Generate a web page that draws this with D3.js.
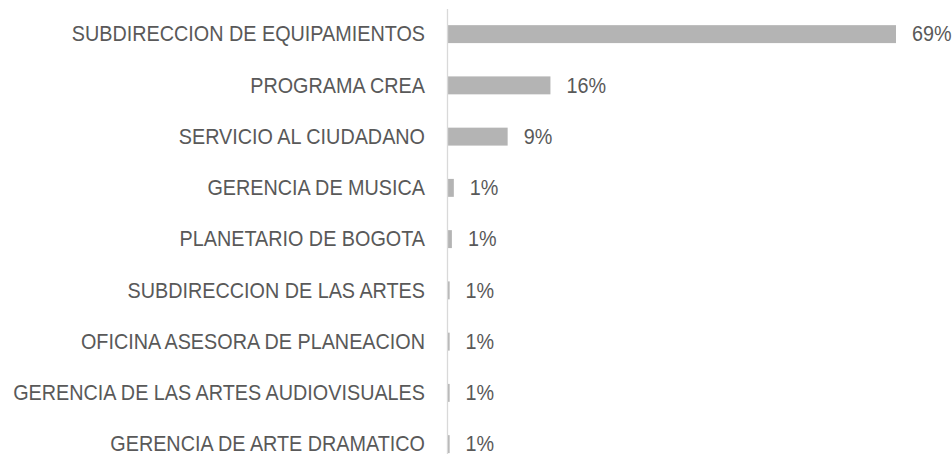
<!DOCTYPE html>
<html>
<head>
<meta charset="utf-8">
<script src="https://cdn.jsdelivr.net/npm/d3@7"></script>
<style>
  html, body { margin: 0; padding: 0; background: #fff; }
  svg { display: block; }
  text { font-family: "Liberation Sans Narrow", "Liberation Sans", Arial, sans-serif; fill: #595959; font-size: 22px; }
</style>
</head>
<body>
<svg id="chart" width="952" height="454"></svg>
<script>
// areas, in the order shown top to bottom
var areas = [
  'SUBDIRECCION DE EQUIPAMIENTOS',
  'PROGRAMA CREA',
  'SERVICIO AL CIUDADANO',
  'GERENCIA DE MUSICA',
  'PLANETARIO DE BOGOTA',
  'SUBDIRECCION DE LAS ARTES',
  'OFICINA ASESORA DE PLANEACION',
  'GERENCIA DE LAS ARTES AUDIOVISUALES',
  'GERENCIA DE ARTE DRAMATICO'
]
// share of each area, percent (bar lengths)
var shares = [69.1, 15.8, 9.2, 0.9, 0.6, 0.25, 0.25, 0.25, 0.25]
// labels as printed next to the bars
var shareLabels = ['69%', '16%', '9%', '1%', '1%', '1%', '1%', '1%', '1%']

var svg = d3.select('#chart')
var axisX = 447.5
// no narrow font installed, so squeeze the glyphs a little
var squeeze = 0.9

var data = areas.map(function (a, i) {
  return { area: a, value: shares[i], label: shareLabels[i] }
})

var x = d3.scaleLinear()
  .domain([0, d3.max(shares)])
  .range([axisX + 0.5, 896])

var y = d3.scaleBand()
  .domain(areas)
  .range([8.5, 8.5 + 9 * 51.25])
  .paddingInner(0.65)
  .paddingOuter(0.325)

function mid (d) { return y(d.area) + y.bandwidth() / 2 }

// category labels
svg.append('g').selectAll('text')
  .data(data)
  .enter().append('text')
  .attr('transform', function (d) { return 'translate(425,' + mid(d) + ') scale(' + squeeze + ',1)' })
  .attr('dy', '0.33em')
  .attr('text-anchor', 'end')
  .text(function (d) { return d.area })

// bars
svg.append('g').selectAll('rect')
  .data(data)
  .enter().append('rect')
  .attr('x', x(0))
  .attr('y', function (d) { return y(d.area) })
  .attr('width', function (d) { return x(d.value) - x(0) })
  .attr('height', y.bandwidth())
  .attr('fill', '#b4b4b4')

// value labels
svg.append('g').selectAll('text')
  .data(data)
  .enter().append('text')
  .attr('transform', function (d) { return 'translate(' + (x(d.value) + 16) + ',' + mid(d) + ') scale(' + squeeze + ',1)' })
  .attr('dy', '0.33em')
  .text(function (d) { return d.label })

// vertical category axis line
svg.append('line')
  .attr('x1', axisX).attr('x2', axisX)
  .attr('y1', 9).attr('y2', 454)
  .attr('stroke', '#d9d9d9')
  .attr('stroke-width', 1.3)
</script>
</body>
</html>
